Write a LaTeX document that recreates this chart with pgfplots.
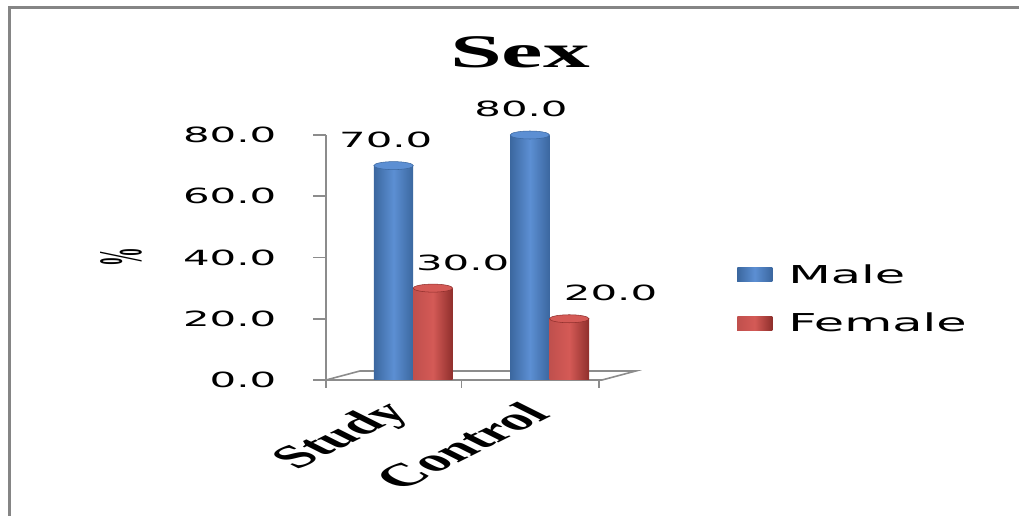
\documentclass[border=0pt]{standalone}
\usepackage{pgfplots}
\usepackage{pgfplotstable}
\pgfplotsset{compat=1.18}
\usepackage{fontspec}
\setmainfont{Liberation Serif}
\newfontfamily\wsans[FakeStretch=2]{DejaVu Sans}
\newfontfamily\wserif[FakeStretch=2]{Liberation Serif}
\definecolor{maleblue}{HTML}{4F81BD}
\definecolor{maledark}{HTML}{3B679F}
\definecolor{malelight}{HTML}{5C8FD3}
\definecolor{femred}{HTML}{C0504D}
\definecolor{femdark}{HTML}{8F2F2C}
\definecolor{femlight}{HTML}{D45A56}
\definecolor{axgray}{HTML}{8C8C8C}
\definecolor{framegray}{HTML}{858585}

\pgfdeclareplotmark{cyltop}{%
  \pgfpathellipse{\pgfpointorigin}{\pgfqpoint{14.8pt}{0pt}}{\pgfqpoint{0pt}{3pt}}%
  \pgfusepathqfillstroke}

\pgfplotsset{
  vallabels/.style={
    nodes near coords={\pgfmathprintnumber[fixed,fixed zerofill,precision=1,assume math mode=true]{\pgfplotspointmeta}},
    nodes near coords style={font=\wsans\fontsize{15.7}{16}\selectfont, yshift=9.75pt, text=black, xshift=#1}},
  malebar/.style={ybar, bar width=29.6pt, bar shift=-14.8pt, draw=none,
    left color=maledark, right color=maledark, middle color=malelight,
    legend image code/.code={\fill[maleblue] (0pt,-5.25pt) rectangle (26.25pt,5.25pt);}},
  fembar/.style={ybar, bar width=29.6pt, bar shift=14.8pt, draw=none,
    left color=femred, right color=femdark, middle color=femlight,
    legend image code/.code={\fill[femred] (0pt,-5.25pt) rectangle (26.25pt,5.25pt);}},
}

\pgfplotstableread{
pos male female
0 70 30
1 80 20
}\sexdata

\begin{document}
\begin{tikzpicture}
\draw[framegray, line width=2.5pt] (7.1pt,0) -- (7.1pt,381.4pt) -- (764pt,381.4pt);
\node[anchor=base, font=\wserif\bfseries\fontsize{35}{35}\selectfont] at (390pt,336pt) {Sex};
\begin{axis}[
  set layers,
  at={(244.5pt,102pt)}, anchor=south west,
  scale only axis, width=205.5pt, height=183.75pt,
  xmin=-0.64, xmax=1.37, ymin=0, ymax=80,
  clip=false,
  axis lines*=left,
  x axis line style={draw=none},
  y axis line style={axgray, line width=1.2pt},
  xtick={0,1}, xticklabels={Study,Control},
  xtick style={draw=none},
  ytick={0,20,40,60,80},
  ytick style={axgray, line width=1.2pt},
  tick align=outside, major tick length=9.75pt,
  yticklabel={\pgfmathprintnumber[fixed,fixed zerofill,precision=1,assume math mode=true]{\tick}},
  yticklabel style={font=\wsans\fontsize{15.7}{16}\selectfont, xshift=-24pt},
  xticklabel style={font=\bfseries\fontsize{24}{24}\selectfont, anchor=east, xshift=-5pt, yshift=-9pt, xscale=2, rotate=45},
  ylabel={\%},
  every axis y label/.style={at={(rel axis cs:-0.748,0.502)}, anchor=center, font=\bfseries\fontsize{14}{14}\selectfont, xscale=3.3, rotate=90},
  legend style={draw=none, fill=none, at={(rel axis cs:1.5,0.33)}, anchor=west, font=\wsans\fontsize{18.5}{18.5}\selectfont, row sep=17pt, inner sep=0pt,
    /tikz/every odd column/.append style={column sep=10pt}},
  legend cell align=left,
]
\begin{pgfonlayer}{pre main}
\draw[axgray, line width=1.2pt] (axis cs:-0.64,0) -- (axis cs:1.385,0) -- (axis cs:1.633,2.94) -- (axis cs:-0.391,2.94) -- cycle;
\draw[axgray, line width=1.2pt] (axis cs:-0.64,0) -- (axis cs:-0.64,-2.6) (axis cs:0.354,0) -- (axis cs:0.354,-2.6) (axis cs:1.363,0) -- (axis cs:1.363,-2.6);
\end{pgfonlayer}
% Study
\addplot[malebar, vallabels=-20.6pt] table[x=pos, y=male, skip coords between index={1}{2}]{\sexdata};
\addlegendentry{Male}
\addplot[fembar, vallabels=37.1pt] table[x=pos, y=female, skip coords between index={1}{2}]{\sexdata};
\addlegendentry{Female}
% Control
\addplot[malebar, forget plot, vallabels=-21.4pt] table[x=pos, y=male, skip coords between index={0}{1}]{\sexdata};
\addplot[fembar, forget plot, vallabels=45.75pt] table[x=pos, y=female, skip coords between index={0}{1}]{\sexdata};
% cylinder tops
\addplot[forget plot, only marks, mark=cyltop, mark options={fill=malelight, draw=maledark, line width=0.4pt}]
  table[x expr=\thisrow{pos}-0.1444, y=male]{\sexdata};
\addplot[forget plot, only marks, mark=cyltop, mark options={fill=femlight, draw=femdark, line width=0.4pt}]
  table[x expr=\thisrow{pos}+0.1444, y=female]{\sexdata};
\end{axis}
\pgfresetboundingbox
\useasboundingbox (0,0) rectangle (765pt,387pt);
\end{tikzpicture}
\end{document}
